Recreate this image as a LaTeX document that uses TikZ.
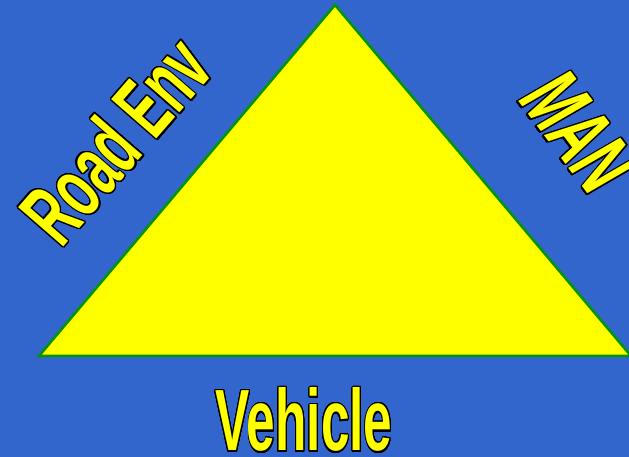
\documentclass[tikz,border=0pt]{standalone}
\usepackage{fontspec}
\setmainfont{Liberation Sans}
\usepackage[copies]{contour}
\contourlength{1.6pt}
\contournumber{32}
\definecolor{bgblue}{RGB}{51,102,204}
\definecolor{triyellow}{RGB}{255,255,0}
\definecolor{trigreen}{RGB}{0,150,0}
\tikzset{
  label text/.style={anchor=base, inner sep=0pt, transform shape,
    font=\fontsize{87}{90}\selectfont\bfseries, text=triyellow},
  squeeze/.style={xscale=0.59},
}
\newcommand{\outlined}[1]{\contour{black}{#1}}
\begin{document}
\begin{tikzpicture}[x=1pt,y=1pt]
\useasboundingbox (0,0) rectangle (629,457);
\fill[bgblue] (0,0) rectangle (629,457);
\clip (0,0) rectangle (629,457);
\coordinate (apex) at (335,452);
\coordinate (left) at (39,101);
\coordinate (right) at (631,101);
\filldraw[fill=triyellow, draw=trigreen, line width=2.5pt, line join=miter]
  (apex) -- (left) -- (right) -- cycle;
\node[rotate=49, squeeze, label text] (road) at (139,297) {\outlined{Road Env}};
\node[rotate=-53, xslant=0.12, xscale=0.62, label text] (man) at (553,309) {\outlined{MAN}};
\node[squeeze, label text] (veh) at (304,6) {\outlined{Vehicle}};
\end{tikzpicture}
\end{document}
